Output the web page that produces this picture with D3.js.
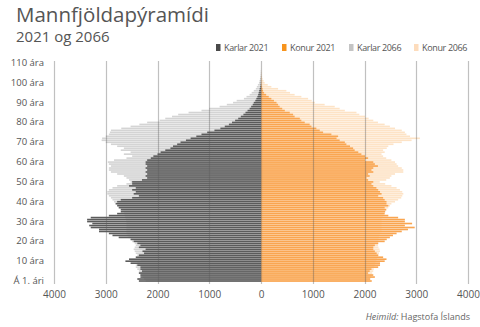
<!DOCTYPE html>
<html>
<head>
<meta charset="utf-8">
<script src="https://cdn.jsdelivr.net/npm/d3@7/dist/d3.min.js"></script>
<style>
  html, body { margin: 0; padding: 0; background: #fff; }
  svg { display: block; font-family: "Open Sans", "Noto Sans", sans-serif; }
</style>
</head>
<body>
<svg id="chart" width="480" height="327"></svg>
<script>
// Ages 0..110 (single years)
const ages = d3.range(0, 111);
const ageLabels = ["Á 1. ári", "10 ára", "20 ára", "30 ára", "40 ára", "50 ára",
                   "60 ára", "70 ára", "80 ára", "90 ára", "100 ára", "110 ára"];
const xTicks = [-4000, -3000, -2000, -1000, 0, 1000, 2000, 3000, 4000];

const seriesNames = ["Karlar 2021", "Konur 2021", "Karlar 2066", "Konur 2066"];

// Men 2021, by age
const karlar2021 = [
  2360, 2390, 2330, 2330, 2360, 2300, 2330, 2330, 2390, 2520,
  2620, 2550, 2420, 2360, 2260, 2290, 2230, 2360, 2330, 2390,
  2460, 2520, 2750, 2870, 2940, 3130, 3130, 3290, 3320, 3260,
  3360, 3360, 3290, 2940, 2780, 2710, 2710, 2750, 2780, 2810,
  2780, 2710, 2490, 2360, 2460, 2420, 2490, 2420, 2550, 2490,
  2490, 2300, 2200, 2230, 2200, 2230, 2200, 2230, 2200, 2230,
  2230, 2200, 2130, 2080, 2000, 1940, 1850, 1750, 1700, 1620,
  1555, 1450, 1360, 1250, 1150, 1040, 900, 785, 700, 620,
  560, 500, 440, 390, 340, 300, 260, 220, 190, 160,
  140, 110, 90, 70, 55, 45, 35, 25, 15, 10,
  7, 5, 3, 2, 1, 1, 1, 0, 0, 0, 0
];

// Women 2021, by age
const konur2021 = [
  2140, 2110, 2200, 2170, 2070, 2100, 2135, 2265, 2300, 2300,
  2390, 2425, 2360, 2265, 2235, 2200, 2170, 2170, 2200, 2265,
  2390, 2430, 2490, 2550, 2620, 2720, 2840, 2970, 2780, 2920,
  2780, 2780, 2650, 2460, 2390, 2400, 2420, 2390, 2460, 2425,
  2425, 2390, 2360, 2265, 2330, 2300, 2265, 2230, 2170, 2135,
  2170, 2070, 2040, 2100, 2070, 2170, 2135, 2170, 2260, 2200,
  2170, 2010, 2070, 2010, 1940, 1880, 1810, 1780, 1720, 1650,
  1620, 1520, 1460, 1490, 1360, 1200, 1135, 1070, 975, 940,
  845, 780, 750, 650, 620, 555, 460, 410, 360, 330,
  300, 250, 200, 150, 100, 60, 40, 30, 20, 12,
  8, 5, 3, 2, 1, 1, 0, 0, 0, 0, 0
];

// Men 2066 (projection), by age
const karlar2066 = [
  2230, 2260, 2290, 2330, 2330, 2360, 2390, 2420, 2420, 2390,
  2330, 2330, 2360, 2390, 2420, 2440, 2460, 2440, 2420, 2440,
  2490, 2520, 2560, 2580, 2600, 2600, 2600, 2600, 2600, 2600,
  2600, 2610, 2620, 2630, 2640, 2650, 2680, 2710, 2750, 2780,
  2840, 2870, 2900, 2940, 2970, 2970, 2940, 2870, 2780, 2600,
  2520, 2550, 2600, 2650, 2780, 2900, 2940, 2940, 2900, 2940,
  2960, 2840, 2600, 2490, 2650, 2520, 2710, 2650, 2780, 2900,
  3000, 3080, 3070, 3000, 2940, 2920, 2900, 2700, 2520, 2350,
  2200, 1960, 1850, 1720, 1600, 1400, 1150, 1000, 800, 660,
  540, 470, 330, 280, 220, 180, 140, 100, 80, 60,
  40, 30, 20, 12, 8, 5, 3, 2, 1, 1, 0
];

// Women 2066 (projection), by age
const konur2066 = [
  2100, 2110, 2130, 2140, 2150, 2170, 2180, 2190, 2200, 2210,
  2230, 2240, 2260, 2270, 2280, 2300, 2290, 2270, 2260, 2265,
  2265, 2270, 2280, 2290, 2300, 2330, 2330, 2330, 2330, 2330,
  2330, 2330, 2330, 2360, 2380, 2395, 2420, 2460, 2490, 2520,
  2590, 2650, 2710, 2730, 2750, 2730, 2685, 2620, 2520, 2400,
  2295, 2420, 2490, 2520, 2590, 2750, 2750, 2720, 2650, 2620,
  2590, 2520, 2420, 2360, 2330, 2390, 2360, 2430, 2460, 2560,
  2720, 2910, 3070, 2880, 2810, 2780, 2720, 2590, 2490, 2390,
  2260, 2170, 2080, 2010, 1900, 1845, 1620, 1520, 1425, 1230,
  1040, 980, 910, 780, 650, 560, 490, 330, 200, 130,
  70, 50, 30, 20, 12, 8, 5, 3, 2, 1, 1
];

const colors = {
  "Karlar 2021": "#5b5b5b",
  "Konur 2021": "#f9a550",
  "Karlar 2066": "#d4d4d4",
  "Konur 2066": "#fde3c6"
};
const legendColors = {
  "Karlar 2021": "#4a4a4a",
  "Konur 2021": "#f7941d",
  "Karlar 2066": "#c4c4c4",
  "Konur 2066": "#fddcbc"
};

const svg = d3.select("#chart");

const x = d3.scaleLinear().domain([-4000, 4000]).range([54, 468]);
const y = d3.scaleBand().domain(ages).range([282, 62]).paddingInner(0.18).paddingOuter(0.09);

// Title
svg.append("text").attr("x", 16).attr("y", 22)
  .attr("font-size", 20.5).attr("fill", "#555").text("Mannfjöldapýramídi");
svg.append("text").attr("x", 16).attr("y", 42)
  .attr("font-size", 15).attr("fill", "#555").text("2021 og 2066");

// Legend
const legendX = [216, 282, 349, 414];
const lg = svg.append("g");
seriesNames.forEach((name, i) => {
  lg.append("rect").attr("x", legendX[i]).attr("y", 44).attr("width", 4.5).attr("height", 7)
    .attr("fill", legendColors[name]);
  lg.append("text").attr("x", legendX[i] + 8).attr("y", 51)
    .attr("font-size", 9).attr("letter-spacing", -0.35).attr("fill", "#555").text(name);
});

// Bars: projections behind, current population in front
const bars = svg.append("g");
function drawSeries(values, side, color) {
  bars.append("g").selectAll("rect").data(ages).join("rect")
    .attr("x", a => side < 0 ? x(-values[a]) : x(0))
    .attr("width", a => Math.abs(x(values[a]) - x(0)))
    .attr("y", a => y(a))
    .attr("height", y.bandwidth())
    .attr("fill", color);
}
drawSeries(karlar2066, -1, colors["Karlar 2066"]);
drawSeries(konur2066, 1, colors["Konur 2066"]);
drawSeries(karlar2021, -1, colors["Karlar 2021"]);
drawSeries(konur2021, 1, colors["Konur 2021"]);

// Vertical grid lines
svg.append("g").selectAll("line").data(xTicks).join("line")
  .attr("x1", d => Math.round(x(d)) + 0.5).attr("x2", d => Math.round(x(d)) + 0.5)
  .attr("y1", 61).attr("y2", 284)
  .attr("stroke", "rgba(90,90,90,0.38)").attr("stroke-width", 1.2);

// X axis labels (absolute values)
const xAxis = d3.axisBottom(x).tickValues(xTicks).tickSize(0).tickPadding(0)
  .tickFormat(d => String(Math.abs(d)));
const gx = svg.append("g").attr("transform", "translate(0,291)").call(xAxis);
gx.select(".domain").remove();
gx.selectAll("text").attr("font-size", 10).attr("fill", "#555")
  .attr("font-family", "'Open Sans', sans-serif");

// Y axis labels every ten years
const yAxis = d3.axisLeft(y).tickValues(d3.range(0, 111, 10)).tickSize(0).tickPadding(0)
  .tickFormat(a => ageLabels[a / 10]);
const gy = svg.append("g").attr("transform", "translate(44,0)").call(yAxis);
gy.select(".domain").remove();
gy.selectAll("text").attr("font-size", 9.5).attr("fill", "#555")
  .attr("font-family", "'Open Sans', sans-serif");

// Source
const src = svg.append("text").attr("x", 470).attr("y", 320).attr("text-anchor", "end")
  .attr("font-size", 9).attr("fill", "#666");
src.append("tspan").attr("font-style", "italic").text("Heimild:");
src.append("tspan").text("  Hagstofa Íslands");
</script>
</body>
</html>
